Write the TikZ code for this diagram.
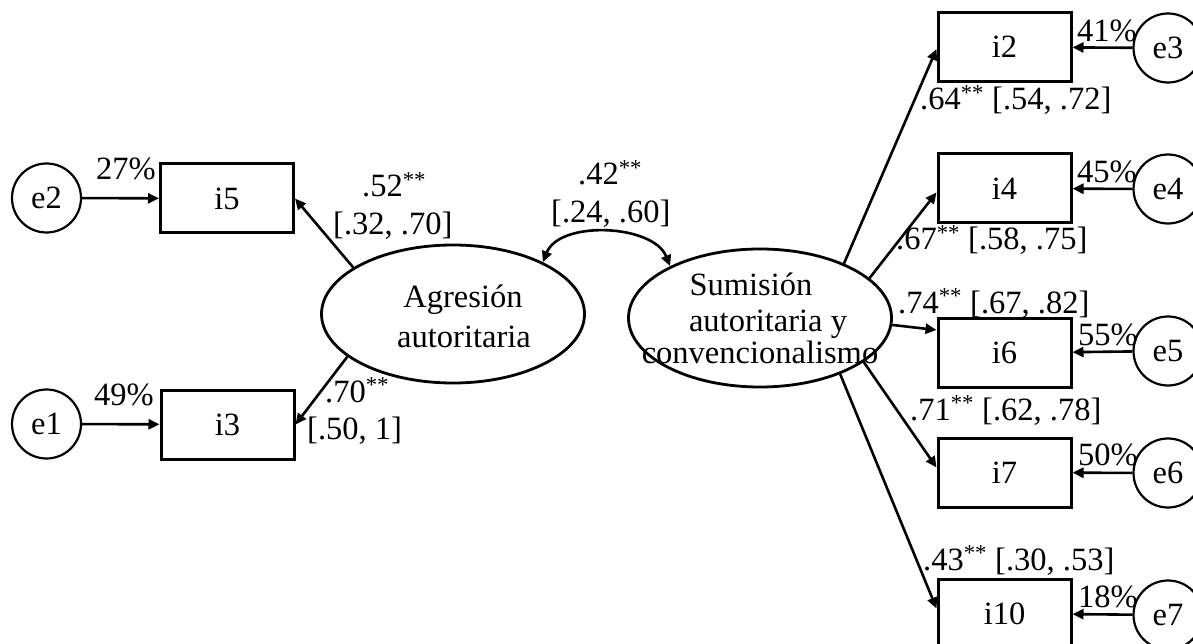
\documentclass[tikz,border=0pt]{standalone}
\usepackage{fontspec}
\setmainfont{Liberation Serif}
\usetikzlibrary{arrows.meta,calc,shapes.geometric}
\begin{document}
\begin{tikzpicture}[x=1pt,y=-1pt,
  font=\fontsize{32.5}{36}\selectfont,
  item/.style={draw,line width=3pt,minimum width=133pt,minimum height=69pt,inner sep=0pt},
  err/.style={draw,circle,line width=2.2pt,minimum size=69pt,inner sep=0pt},
  factor/.style={draw,ellipse,line width=2.8pt,minimum width=263pt,minimum height=138pt,inner sep=0pt},
  load/.style={line width=2.6pt,-{Triangle[length=11pt,width=10pt]}},
  lab/.style={anchor=base west,inner sep=0pt},
  ftxt/.style={anchor=base,inner sep=0pt},
]
\clip (0,0) rectangle (1193,644);

% latent factors
\node[factor] (ag) at (453,314) {};
\node[factor] (su) at (760,318) {};
\node[ftxt] (ag1) at (463,307) {Agresión};
\node[ftxt] (ag2) at (464,347) {autoritaria};
\node[ftxt] (su1) at (751,295) {Sumisión};
\node[ftxt] (su2) at (768,331) {autoritaria y};
\node[ftxt] (su3) at (760,363) {convencionalismo};

% indicators
\node[item] (i5) at (227,198.5) {i5};
\node[item] (i3) at (227.5,424.5) {i3};
\node[item] (i2) at (1004.5,47) {i2};
\node[item] (i4) at (1004.5,188.5) {i4};
\node[item] (i6) at (1004.5,353) {i6};
\node[item] (i7) at (1004.5,472.5) {i7};
\node[item] (i10) at (1004.5,613.5) {i10};

% error terms
\node[err] (e2) at (46.5,198) {e2};
\node[err] (e1) at (46.5,424) {e1};
\node[err] (e3) at (1168,48) {e3};
\node[err] (e4) at (1168,189) {e4};
\node[err] (e5) at (1168,351) {e5};
\node[err] (e6) at (1168,473) {e6};
\node[err] (e7) at (1168,615) {e7};

% error paths
\draw[load] (e2) -- (i5);
\draw[load] (e1) -- (i3);
\draw[load] (e3) -- (i2);
\draw[load] (e4) -- (i4);
\draw[load] (e5) -- (i6);
\draw[load] (e6) -- (i7);
\draw[load] (e7) -- (i10);

% factor loadings
\draw[load] (ag.155) -- (i5.east);
\draw[load] (ag.202) -- (i3.east);
\draw[load] (su.33) -- ([yshift=-2pt]i2.west);
\draw[load] (su.20) -- ([yshift=-4pt]i4.west);
\draw[load] (su.-3) -- ([yshift=23pt]i6.west);
\draw[load] (su.-23) -- ([yshift=5pt]i7.west);
\draw[load] (su.-35) -- ([yshift=5pt]i10.west);

% factor correlation
\draw[line width=2.6pt,{Triangle[length=11pt,width=10pt]}-{Triangle[length=11pt,width=10pt]}]
  (ag.30) .. controls +(17,-42) and +(-17,-42) .. (su.150);

% explained variance
\node[lab] (p27) at (96,180) {27\%};
\node[lab] (p49) at (94,405) {49\%};
\node[lab] (p41) at (1077,42) {41\%};
\node[lab] (p45) at (1077,183) {45\%};
\node[lab] (p55) at (1078,345) {55\%};
\node[lab] (p50) at (1078,465) {50\%};
\node[lab] (p18) at (1078,607) {18\%};

% coefficients and intervals
\node[lab] (c52) at (362,197) {.52\textsuperscript{**}};
\node[lab] (k52) at (333,235) {[.32, .70]};
\node[lab] (c70) at (325,402) {.70\textsuperscript{**}};
\node[lab] (k70) at (307,439) {[.50, 1]};
\node[lab] (c42) at (578,185) {.42\textsuperscript{**}};
\node[lab] (k42) at (551,223) {[.24, .60]};
\node[lab] (c64) at (920,110) {.64\textsuperscript{**} [.54, .72]};
\node[lab] (c67) at (896,250) {.67\textsuperscript{**} [.58, .75]};
\node[lab] (c74) at (898,313) {.74\textsuperscript{**} [.67, .82]};
\node[lab] (c71) at (910,420) {.71\textsuperscript{**} [.62, .78]};
\node[lab] (c43) at (923,570) {.43\textsuperscript{**} [.30, .53]};
\end{tikzpicture}
\end{document}
